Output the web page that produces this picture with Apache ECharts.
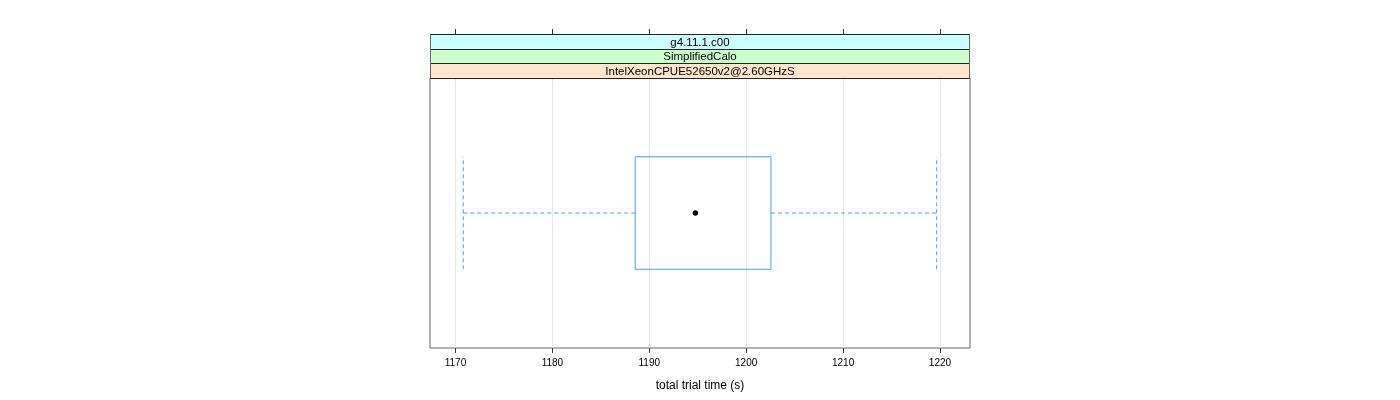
<!DOCTYPE html>
<html>
<head>
<meta charset="utf-8">
<script src="https://cdn.jsdelivr.net/npm/echarts@6/dist/echarts.min.js"></script>
<style>html,body{margin:0;padding:0;background:#fff}#c{width:1400px;height:400px}</style>
</head>
<body>
<div id="c"></div>
<script>
const categories = ['IntelXeonCPUE52650v2@2.60GHzS'];
const whiskerLow = [1170.8];
const q1 = [1188.55];
const median = [1194.75];
const q3 = [1202.56];
const whiskerHigh = [1219.66];
const tickValues = [1170, 1180, 1190, 1200, 1210, 1220];
const stripLabels = ['g4.11.1.c00', 'SimplifiedCalo', 'IntelXeonCPUE52650v2@2.60GHzS'];
const stripColors = ['#ccffff', '#ccffcc', '#ffe5cc'];
const xTitle = 'total trial time (s)';

const FONT = '"Liberation Sans", Arial, sans-serif';
const L = 430, R = 970, TOP = 78, BOT = 348, STRIP_TOP = 34;
const stripH = (TOP - STRIP_TOP) / stripLabels.length;
const BOX_COLOR = '#4a9ff5';
const HALF = 0.25; // half box height in y-units

const chart = echarts.init(document.getElementById('c'), null, {renderer: 'canvas'});

const graphics = [];
stripLabels.forEach((t, i) => {
  const y0 = Math.round(STRIP_TOP + i * stripH), y1 = Math.round(STRIP_TOP + (i + 1) * stripH);
  graphics.push({
    type: 'rect', z: 10,
    shape: {x: L + 0.5, y: y0 + 0.5, width: R - L - 1, height: y1 - y0},
    style: {fill: stripColors[i], stroke: '#222', lineWidth: 1}
  });
  graphics.push({
    type: 'text', z: 11,
    x: (L + R) / 2, y: (y0 + y1) / 2 + 1,
    style: {text: t, fill: '#000', font: '11.5px ' + FONT, align: 'center', verticalAlign: 'middle'}
  });
});
graphics.push({type: 'line', z: 12, shape: {x1: L + 0.5, y1: STRIP_TOP, x2: L + 0.5, y2: TOP}, style: {stroke: '#666', lineWidth: 1}});
graphics.push({type: 'line', z: 12, shape: {x1: R - 0.5, y1: STRIP_TOP, x2: R - 0.5, y2: TOP}, style: {stroke: '#666', lineWidth: 1}});

const series = [];
function lineSeries(pts, dashed) {
  return {
    type: 'line', data: pts, symbol: 'none', showSymbol: false, silent: true,
    lineStyle: {color: BOX_COLOR, width: 1, type: dashed ? [4, 3] : 'solid'},
    z: 5
  };
}
categories.forEach((c, i) => {
  const y = i + 1;
  series.push(lineSeries([[whiskerLow[i], y], [q1[i], y]], true));
  series.push(lineSeries([[q3[i], y], [whiskerHigh[i], y]], true));
  series.push(lineSeries([[whiskerLow[i], y - HALF], [whiskerLow[i], y + HALF]], true));
  series.push(lineSeries([[whiskerHigh[i], y - HALF], [whiskerHigh[i], y + HALF]], true));
  series.push(lineSeries([[q1[i], y - HALF], [q3[i], y - HALF], [q3[i], y + HALF], [q1[i], y + HALF], [q1[i], y - HALF]], false));
  series.push({type: 'scatter', data: [[median[i], y]], symbol: 'circle', symbolSize: 5.5, itemStyle: {color: '#000', opacity: 1}, silent: true, z: 6});
});

const option = {
  animation: false,
  backgroundColor: '#fff',
  grid: {left: L, right: 1400 - R, top: TOP, bottom: 400 - BOT, show: true, borderColor: '#666', borderWidth: 1, backgroundColor: 'transparent', containLabel: false},
  xAxis: [{
    type: 'value', min: 1167.37, max: 1223.1, position: 'bottom',
    axisLine: {show: false},
    axisTick: {show: true, length: 5, customValues: tickValues, lineStyle: {color: '#333'}},
    axisLabel: {show: true, customValues: tickValues, margin: 10, fontSize: 10, fontFamily: FONT, color: '#000', formatter: v => String(v)},
    splitLine: {show: true, lineStyle: {color: '#e6e6e6', width: 1}},
    name: xTitle, nameLocation: 'middle', nameGap: 32,
    nameTextStyle: {fontSize: 12, fontFamily: FONT, color: '#000'}
  }, {
    type: 'value', min: 1167.37, max: 1223.1, position: 'top', offset: TOP - STRIP_TOP,
    axisLine: {show: false},
    axisTick: {show: true, length: 5, customValues: tickValues, lineStyle: {color: '#333'}},
    axisLabel: {show: false},
    splitLine: {show: false}
  }],
  yAxis: {
    type: 'value', min: 0.4, max: 1.6,
    axisLine: {show: false}, axisTick: {show: false}, axisLabel: {show: false}, splitLine: {show: false}
  },
  graphic: graphics,
  series: series
};
chart.setOption(option);
</script>
</body>
</html>
